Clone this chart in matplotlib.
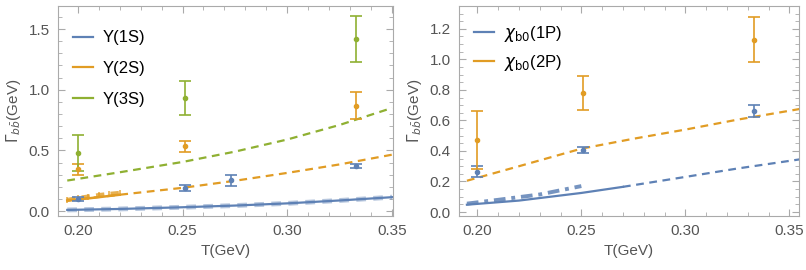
import matplotlib.pyplot as plt
from matplotlib.ticker import MultipleLocator, FormatStrFormatter

plt.rcParams['font.family'] = ['Liberation Sans', 'DejaVu Sans']
plt.rcParams['mathtext.fontset'] = 'dejavusans'

BLUE = '#5E81B5'
ORANGE = '#E19C24'
GREEN = '#8FB032'
GRAY = '#555555'
FRAME = '#AAAAAA'

# ---- left panel: Upsilon states ----
t_1s = [0.195, 0.22, 0.25, 0.275, 0.30, 0.325, 0.35]
g_1s = [0.010, 0.018, 0.032, 0.046, 0.064, 0.088, 0.115]
t_2s_solid = [0.195, 0.205, 0.22]
g_2s_solid = [0.088, 0.105, 0.135]
t_2s_mark = [0.195, 0.20, 0.205, 0.21, 0.215, 0.22]
g_2s_mark = [0.092, 0.108, 0.120, 0.132, 0.142, 0.150]
t_2s_dash = [0.195, 0.22, 0.25, 0.275, 0.30, 0.325, 0.35]
g_2s_dash = [0.088, 0.135, 0.192, 0.250, 0.315, 0.385, 0.465]
t_3s_dash = [0.195, 0.22, 0.25, 0.275, 0.30, 0.325, 0.35]
g_3s_dash = [0.252, 0.320, 0.405, 0.490, 0.590, 0.710, 0.850]

pt_1s_t = [0.200, 0.251, 0.273, 0.333]
pt_1s_g = [0.100, 0.190, 0.255, 0.370]
pt_1s_e = [0.015, 0.025, 0.045, 0.015]
pt_2s_t = [0.200, 0.251, 0.333]
pt_2s_g = [0.345, 0.535, 0.870]
pt_2s_e = [0.045, 0.045, 0.110]
pt_3s_t = [0.200, 0.251, 0.333]
pt_3s_g = [0.480, 0.930, 1.415]
pt_3s_e = [0.150, 0.140, 0.190]

# ---- right panel: chi_b0 states ----
t_1p_solid = [0.195, 0.22, 0.25, 0.27]
g_1p_solid = [0.048, 0.075, 0.125, 0.165]
t_1p_dot = [0.195, 0.21, 0.23, 0.25]
g_1p_dot = [0.055, 0.080, 0.115, 0.170]
t_1p_dash = [0.27, 0.30, 0.325, 0.355]
g_1p_dash = [0.165, 0.230, 0.285, 0.345]
t_2p_dash = [0.195, 0.22, 0.25, 0.275, 0.30, 0.325, 0.355]
g_2p_dash = [0.205, 0.300, 0.415, 0.480, 0.540, 0.605, 0.675]

pt_1p_t = [0.200, 0.251, 0.333]
pt_1p_g = [0.265, 0.405, 0.660]
pt_1p_e = [0.035, 0.020, 0.040]
pt_2p_t = [0.200, 0.251, 0.333]
pt_2p_g = [0.470, 0.780, 1.130]
pt_2p_e = [0.190, 0.110, 0.150]


def style_axes(ax):
    for s in ax.spines.values():
        s.set_color(FRAME)
    ax.tick_params(which='both', direction='in', top=True, right=True,
                   colors=FRAME, labelcolor=GRAY, labelsize=11, pad=6)
    ax.tick_params(which='major', length=5)
    ax.tick_params(which='minor', length=3)
    ax.xaxis.set_major_locator(MultipleLocator(0.05))
    ax.xaxis.set_minor_locator(MultipleLocator(0.01))
    ax.xaxis.set_major_formatter(FormatStrFormatter('%.2f'))
    ax.yaxis.set_major_formatter(FormatStrFormatter('%.1f'))
    ax.set_xlabel('T(GeV)', color=GRAY, fontsize=11)
    ax.set_ylabel(r'$\Gamma_{b\bar{b}}$(GeV)', color=GRAY, fontsize=11, labelpad=4)


def errpts(ax, t, g, e, c):
    ax.errorbar(t, g, yerr=e, fmt='o', color=c, ms=3, elinewidth=1.2,
                capsize=4, capthick=1.2, zorder=5)


fig = plt.figure(figsize=(8.06, 2.70), dpi=100)
ax1 = fig.add_axes([0.072, 0.2, 0.416, 0.778])
ax2 = fig.add_axes([0.5695, 0.2, 0.4215, 0.778])

# left
ax1.plot(t_1s, g_1s, color=BLUE, lw=1.6, label='Υ(1S)')
ax1.plot(t_1s, g_1s, color=BLUE, lw=3.5, alpha=0.45, dashes=(2, 1.5))
ax1.plot([], [], color=ORANGE, lw=1.6, label='Υ(2S)')
ax1.plot(t_2s_dash, g_2s_dash, color=ORANGE, lw=1.6, dashes=(3.5, 2.5))
ax1.plot(t_2s_solid, g_2s_solid, color=ORANGE, lw=1.8)
ax1.plot(t_2s_mark, g_2s_mark, color=ORANGE, lw=3, alpha=0.8, dashes=(2, 1.5),
         marker='|', ms=5, mew=1.2)
ax1.plot([], [], color=GREEN, lw=1.6, label='Υ(3S)')
ax1.plot(t_3s_dash, g_3s_dash, color=GREEN, lw=1.6, dashes=(3.5, 2.5))
errpts(ax1, pt_1s_t, pt_1s_g, pt_1s_e, BLUE)
errpts(ax1, pt_2s_t, pt_2s_g, pt_2s_e, ORANGE)
errpts(ax1, pt_3s_t, pt_3s_g, pt_3s_e, GREEN)
ax1.set_xlim(0.1906, 0.3506)
ax1.set_ylim(-0.04, 1.69)
ax1.yaxis.set_major_locator(MultipleLocator(0.5))
ax1.yaxis.set_minor_locator(MultipleLocator(0.1))
style_axes(ax1)
ax1.legend(loc='upper left', frameon=False, fontsize=12, handlelength=1.2,
           handletextpad=0.6, labelspacing=0.95, bbox_to_anchor=(0.0, 0.955))

# right
ax2.plot(t_1p_solid, g_1p_solid, color=BLUE, lw=1.6, label=r'$\chi_{\rm b0}$(1P)')
ax2.plot(t_1p_dot, g_1p_dot, color=BLUE, lw=2.8, alpha=0.85, dashes=(3, 1.5, 1, 1.5))
ax2.plot(t_1p_dash, g_1p_dash, color=BLUE, lw=1.6, dashes=(3.5, 2.5))
ax2.plot([], [], color=ORANGE, lw=1.6, label=r'$\chi_{\rm b0}$(2P)')
ax2.plot(t_2p_dash, g_2p_dash, color=ORANGE, lw=1.6, dashes=(3.5, 2.5))
errpts(ax2, pt_1p_t, pt_1p_g, pt_1p_e, BLUE)
errpts(ax2, pt_2p_t, pt_2p_g, pt_2p_e, ORANGE)
ax2.set_xlim(0.1912, 0.3545)
ax2.set_ylim(-0.026, 1.35)
ax2.yaxis.set_major_locator(MultipleLocator(0.2))
ax2.yaxis.set_minor_locator(MultipleLocator(0.05))
style_axes(ax2)
ax2.legend(loc='upper left', frameon=False, fontsize=12, handlelength=1.2,
           handletextpad=0.6, labelspacing=0.55, bbox_to_anchor=(0.0, 0.985))

fig.savefig('out.png', dpi=100)
